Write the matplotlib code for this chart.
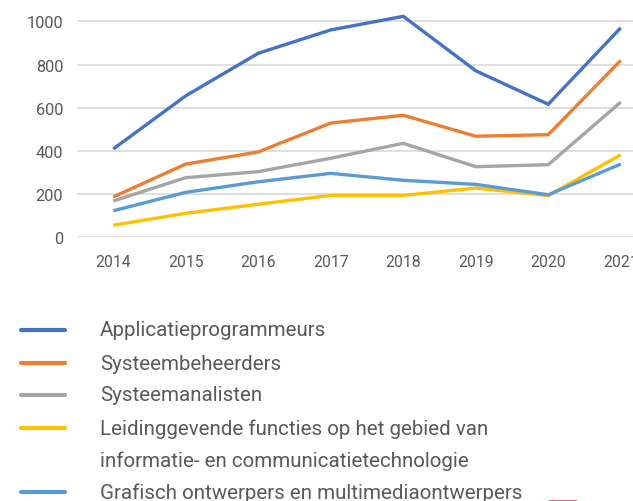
import matplotlib
matplotlib.use("Agg")
import matplotlib.pyplot as plt
from matplotlib.lines import Line2D

years = [2014, 2015, 2016, 2017, 2018, 2019, 2020, 2021]
series_names = [
    "Applicatieprogrammeurs",
    "Systeembeheerders",
    "Systeemanalisten",
    "Leidinggevende functies op het gebied van\ninformatie- en communicatietechnologie",
    "Grafisch ontwerpers en multimediaontwerpers",
]
applicatieprogrammeurs = [409, 655, 852, 960, 1023, 771, 616, 970]
systeembeheerders = [187, 339, 395, 529, 565, 468, 475, 819]
systeemanalisten = [168, 276, 304, 366, 435, 327, 336, 626]
leidinggevende = [56, 111, 153, 194, 194, 228, 193, 382]
grafisch = [123, 208, 257, 296, 264, 245, 197, 339]
yticks = [0, 200, 400, 600, 800, 1000]

colors = ["#4472C4", "#ED7D31", "#A5A5A5", "#FFC000", "#5B9BD5"]
all_series = [applicatieprogrammeurs, systeembeheerders, systeemanalisten, leidinggevende, grafisch]

plt.rcParams['font.family'] = ['Roboto', 'DejaVu Sans']
txt = "#595959"

fig = plt.figure(figsize=(6.33, 5.02), dpi=100)
W, H = 633, 502
left_px, right_px = 77, 657
bot_px, top_px = 238.3, 0.7
ax = fig.add_axes([left_px / W, 1 - bot_px / H, (right_px - left_px) / W, (bot_px - top_px) / H])

for i in range(len(all_series)):
    ax.plot(years, all_series[i], color=colors[i], lw=2.4, solid_capstyle='butt',
            solid_joinstyle='miter', zorder=3 + i, clip_on=False)

ax.set_xlim(2013.5, 2021.5)
ax.set_ylim(0, 1100)
ax.set_yticks(yticks)
ax.set_yticklabels([str(v) for v in yticks], color=txt, fontsize=11.8)
ax.set_xticks(years)
ax.set_xticklabels([str(y) for y in years], color=txt, fontsize=11.3)
ax.tick_params(axis='y', length=0, pad=10)
ax.tick_params(axis='x', length=0, pad=12)
ax.grid(axis='y', color="#D9D9D9", lw=1.2)
ax.set_axisbelow(True)
for s in ax.spines.values():
    s.set_visible(False)

# legend
row_y = [331, 364, 396, 429, 493]
for i, name in enumerate(series_names):
    y = row_y[i]
    fig.add_artist(Line2D([21 / W, 65 / W], [1 - y / H, 1 - y / H], color=colors[i], lw=3,
                          solid_capstyle='round', transform=fig.transFigure))
    lines = name.split("\n")
    for j, ln in enumerate(lines):
        fig.text(100 / W, 1 - (y + j * 32.3) / H, ln, color=txt, fontsize=14.8,
                 va='center', ha='left')

# top edge of a further (cropped) legend key visible at the bottom border
fig.add_artist(Line2D([550 / W, 576 / W], [1 - 501.6 / H, 1 - 501.6 / H], color="#D9667A", lw=1.5,
                      transform=fig.transFigure))

fig.savefig("out.png", dpi=100)
